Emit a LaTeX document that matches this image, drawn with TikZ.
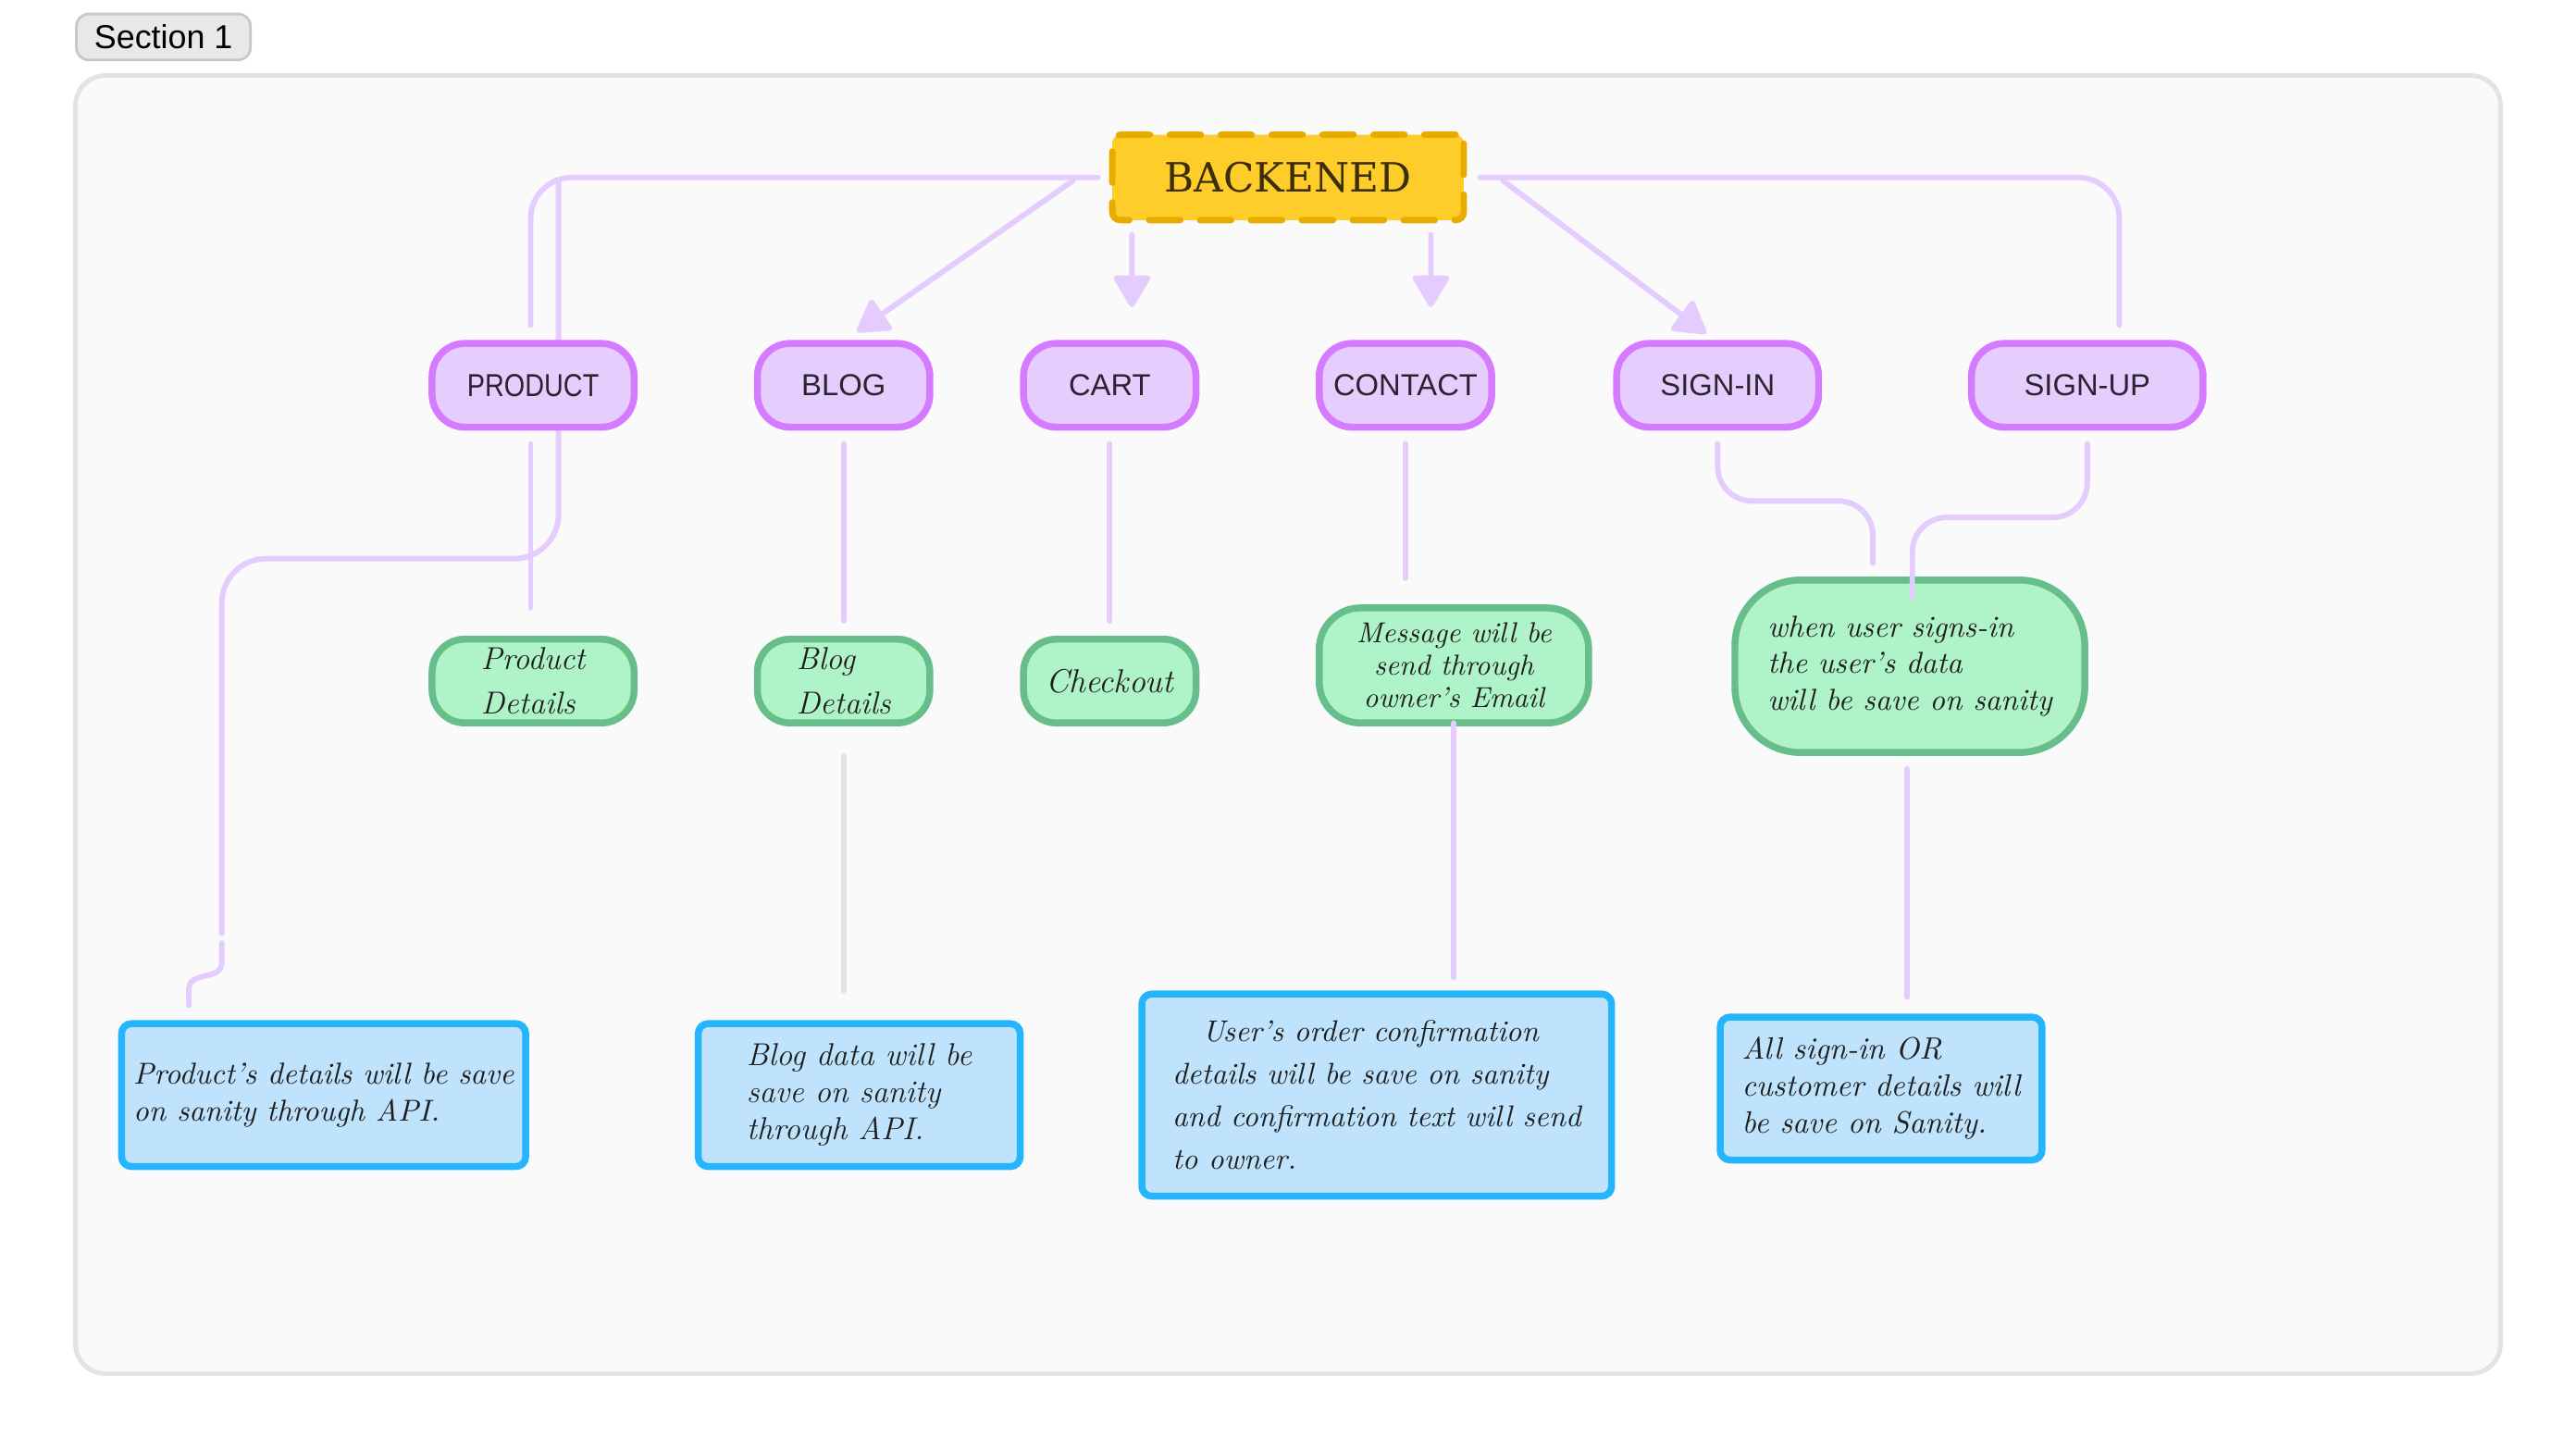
\documentclass[tikz,border=0pt]{standalone}
\usepackage{fontspec}
\newfontfamily\uifont{Liberation Sans}
\newfontfamily\uinarrow{Liberation Sans}[FakeStretch=0.84]
\newfontfamily\headfont{DejaVu Serif}
\usetikzlibrary{arrows.meta,calc}

\definecolor{sheetbg}{HTML}{FAFAFA}
\definecolor{sheetline}{HTML}{E3E3E3}
\definecolor{tabbg}{HTML}{E8E8E8}
\definecolor{tabline}{HTML}{C8C8C8}
\definecolor{pagefill}{HTML}{E5CDFE}
\definecolor{pageline}{HTML}{D67BFD}
\definecolor{notefill}{HTML}{AFF4C8}
\definecolor{noteline}{HTML}{66BF8A}
\definecolor{storefill}{HTML}{BFE3FC}
\definecolor{storeline}{HTML}{24B5FD}
\definecolor{rootfill}{HTML}{FFCD29}
\definecolor{rootline}{HTML}{E8AC00}
\definecolor{rootink}{HTML}{3B2E08}
\definecolor{wirecol}{HTML}{E5CCFE}
\definecolor{greywire}{HTML}{E3E3E3}
\definecolor{ink}{HTML}{2B2430}
\definecolor{handink}{HTML}{1E1E1E}

\begin{document}
\begin{tikzpicture}[x=0.02cm,y=-0.02cm,
  rootbox/.style={draw=rootline,fill=rootfill,line width=2.2pt,line cap=round,
    dash pattern=on 0.38cm off 0.24cm,rounded corners=0.1cm,
    minimum width=4.28cm,minimum height=1.04cm,inner sep=0pt,text=rootink,
    font=\headfont\fontsize{14}{16}\selectfont},
  pagebox/.style={draw=pageline,fill=pagefill,line width=2.4pt,rounded corners=0.4cm,
    minimum height=1.02cm,inner sep=0pt,text=ink,font=\uifont\fontsize{10.5}{12}\selectfont},
  notebox/.style={draw=noteline,fill=notefill,line width=2.4pt,rounded corners=0.4cm,
    minimum height=1.02cm,inner sep=0pt,align=left,text=handink},
  storebox/.style={draw=storeline,fill=storefill,line width=2.4pt,rounded corners=0.12cm,
    minimum height=1.74cm,inner sep=0pt,align=left,text=handink},
  wire/.style={draw=wirecol,line width=1.9pt,line cap=round,rounded corners=0.5cm},
  arrowwire/.style={wire,-{Triangle[length=0.42cm 0,width=0.48cm 0,round]}}
]
\fill[white] (0,0) rectangle (1568,883);
\useasboundingbox (0,0) rectangle (1568,883);

% section frame
\draw[draw=sheetline,fill=sheetbg,line width=1.6pt,rounded corners=0.36cm] (46,46) rectangle (1522,836);
\node[draw=tabline,fill=tabbg,line width=0.9pt,rounded corners=0.15cm,
  minimum width=2.12cm,minimum height=0.56cm,inner sep=0pt,
  font=\uifont\fontsize{11.5}{13}\selectfont] (tab) at (99.5,22.5) {Section 1};

% line running behind PRODUCT
\coordinate (prodtap) at (340,110);
\coordinate (prodfall) at (135,568);
\draw[wire,rounded corners=0.54cm] (prodtap) |- (135,340) -- (prodfall);

% root
\node[rootbox] (backend) at (784,108) {BACKENED};

% pages
\node[pagebox,minimum width=2.46cm,font=\uinarrow\fontsize{11}{12}\selectfont] (product) at (324.5,234.5) {PRODUCT};
\node[pagebox,minimum width=2.10cm] (blog) at (513.5,234.5) {BLOG};
\node[pagebox,minimum width=2.10cm] (cart) at (675.5,234.5) {CART};
\node[pagebox,minimum width=2.10cm] (contact) at (855.5,234.5) {CONTACT};
\node[pagebox,minimum width=2.46cm] (signin) at (1045.5,234.5) {SIGN-IN};
\node[pagebox,minimum width=2.82cm] (signup) at (1270.5,234.5) {SIGN-UP};

% notes
\node[notebox,minimum width=2.46cm,font=\itshape\fontsize{11}{15.4}\selectfont] (proddet) at (324.5,414.5) {Product\\Details};
\node[notebox,minimum width=2.10cm,font=\itshape\fontsize{11}{15.4}\selectfont] (blogdet) at (513.5,414.5) {Blog\\Details};
\node[notebox,minimum width=2.10cm,font=\itshape\fontsize{11.5}{14}\selectfont] (checkout) at (675.5,414.5) {Checkout};
\node[notebox,minimum width=3.28cm,minimum height=1.40cm,rounded corners=0.5cm,align=center,
  font=\itshape\fontsize{10}{11.2}\selectfont] (message) at (885,405) {Message will be\\send through\\owner's Email};
\node[notebox,minimum width=4.26cm,minimum height=2.10cm,rounded corners=0.8cm,
  font=\itshape\fontsize{10.5}{12.8}\selectfont] (signnote) at (1162.5,405.5) {when user signs-in\\the user's data\\will be save on sanity};

% stores
\node[storebox,minimum width=4.92cm,font=\itshape\fontsize{10.5}{13}\selectfont] (prodstore) at (197,666.5) {Product's details will be save\\on sanity through API.};
\node[storebox,minimum width=3.92cm,font=\itshape\fontsize{11}{12.8}\selectfont] (blogstore) at (523,666.5) {Blog data will be\\save on sanity\\through API.};
\node[storebox,minimum width=5.72cm,minimum height=2.46cm,font=\itshape\fontsize{10.4}{14.7}\selectfont] (orderstore) at (838,666.5) {\hspace*{1em}User's order confirmation\\details will be save on sanity\\and confirmation text will send\\to owner.};
\node[storebox,minimum width=3.92cm,font=\itshape\fontsize{10.7}{12.8}\selectfont] (signstore) at (1145,662.5) {All sign-in OR\\customer details will\\be save on Sanity.};

% from the root
\draw[wire] ($(backend.west)+(-7,0)$) -| ($(product.north)+(-1.5,-9)$);
\draw[arrowwire] ($(backend.west)+(-22,2)$) -- ($(blog.north)+(8,-5)$);
\draw[arrowwire] ($(backend.south)+(-95,7)$) -- ($(cart.north)+(13.5,-20)$);
\draw[arrowwire] ($(backend.south)+(87,7)$) -- ($(contact.north)+(15.5,-20)$);
\draw[arrowwire] ($(backend.east)+(22,2)$) -- ($(signin.north)+(-7,-4)$);
\draw[wire] ($(backend.east)+(8,0)$) -| ($(signup.north)+(19.5,-9)$);

% pages to notes
\draw[wire] ($(product.south)+(-1.5,8)$) -- ($(proddet.north)+(-1.5,-17)$);
\draw[wire] ($(blog.south)+(0,8)$) -- ($(blogdet.north)+(0,-9)$);
\draw[wire] ($(cart.south)+(0,8)$) -- ($(checkout.north)+(0,-9)$);
\draw[wire] ($(contact.south)+(0,8)$) -- ($(contact.south |- message.north)+(0,-16)$);
\draw[wire,rounded corners=0.42cm] ($(signin.south)+(0,8)$) |- ($(signnote.north)+(-22.5,-46)$) -- ($(signnote.north)+(-22.5,-8)$);
\draw[wire,rounded corners=0.42cm] ($(signup.south)+(0,8)$) |- ($(signnote.north)+(1.5,-36)$) -- ($(signnote.north)+(1.5,13)$);

% notes to stores
\coordinate (prodhook) at ($(prodstore.north)+(-82,-9)$);
\draw[wire,rounded corners=0pt] ($(prodfall)+(0,6)$) -- ($(prodfall)+(0,18)$)
  .. controls ($(prodfall)+(0,29)$) and ($(prodhook)+(0,-21)$) .. ($(prodhook)+(0,-10)$) -- (prodhook);
\draw[wire,draw=greywire] ($(blogdet.south)+(0,18)$) -- ($(blogdet.south |- blogstore.north)+(0,-18)$);
\draw[wire] ($(message.south)+(0,-2)$) -- ($(message.south |- orderstore.north)+(0,-8)$);
\draw[wire] ($(signnote.south)+(-1.5,8)$) -- ($(signnote.south |- signstore.north)+(-1.5,-10)$);

\end{tikzpicture}
\end{document}
